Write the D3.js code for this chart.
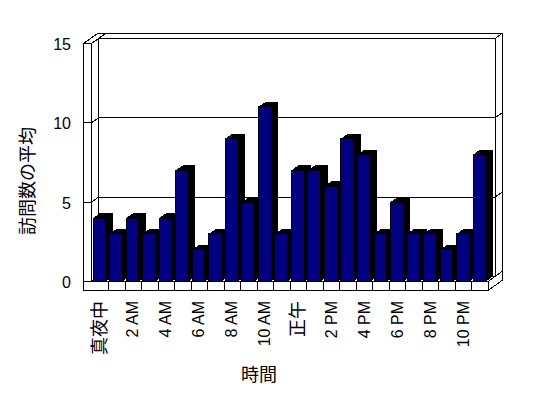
<!DOCTYPE html>
<html>
<head>
<meta charset="utf-8">
<script src="https://cdn.jsdelivr.net/npm/d3@7"></script>
<style>
  body { margin: 0; background: #fff; }
  svg { display: block; }
  text { font-family: "Liberation Sans", Arial, "Noto Sans CJK JP", sans-serif; fill: #000; }
</style>
</head>
<body>
<svg id="chart" width="548" height="398"></svg>
<script>
// hourly categories, only every other one gets a label
const hours = ["真夜中", "1 AM", "2 AM", "3 AM", "4 AM", "5 AM", "6 AM", "7 AM", "8 AM", "9 AM", "10 AM", "11 AM",
               "正午", "1 PM", "2 PM", "3 PM", "4 PM", "5 PM", "6 PM", "7 PM", "8 PM", "9 PM", "10 PM", "11 PM"];
const visits = [4, 3, 4, 3, 4, 7, 2, 3, 9, 5, 11, 3, 7, 7, 6, 9, 8, 3, 5, 3, 3, 2, 3, 8];
const yTicks = [0, 5, 10, 15];
const yTitle = "訪問数の平均";
const xTitle = "時間";

const svg = d3.select("#chart");

// front plane of the plot and the 3D depth offset
const plot = { left: 91.5, right: 488, bottom: 281.5, top: 43.5 };
const dx = 7, dy = -5;       // depth of the plot (front -> back wall)
const wallW = 8, floorH = 9; // thickness of left wall / floor

const x = d3.scaleBand().domain(hours).range([plot.left, plot.right]).padding(0);
const y = d3.scaleLinear().domain([0, 15]).range([plot.bottom, plot.top]);

const line = d3.line();
const poly = pts => line(pts) + "Z";

const frame = svg.append("g")
    .attr("fill", "#fff")
    .attr("stroke", "#000")
    .attr("stroke-width", 1)
    .attr("shape-rendering", "crispEdges");

const bx0 = plot.left + dx, bx1 = plot.right + dx;   // back wall x range
const by0 = y(15) + dy, by1 = y(0) + dy;            // back wall y range

// back wall thickness (top and right faces)
frame.append("path").attr("d", poly([[bx0, by0], [bx1, by0], [bx1 + dx, by0 + dy], [bx0 + dx, by0 + dy]]));
frame.append("path").attr("d", poly([[bx1, by0], [bx1 + dx, by0 + dy], [bx1 + dx, by1 + dy], [bx1, by1]]));
// back wall
frame.append("rect").attr("x", bx0).attr("y", by0).attr("width", bx1 - bx0).attr("height", by1 - by0);
// left wall top, inner face and front face
const lx = plot.left - wallW;
frame.append("path").attr("d", poly([[lx, y(15)], [plot.left, y(15)], [plot.left + 2 * dx, y(15) + 2 * dy], [lx + 2 * dx, y(15) + 2 * dy]]));
frame.append("path").attr("d", poly([[plot.left, y(15)], [bx0, by0], [bx0, by1], [plot.left, y(0)]]));
frame.append("rect").attr("x", lx).attr("y", y(15)).attr("width", wallW).attr("height", y(0) + floorH - y(15));
// floor: top, right side, front face
frame.append("path").attr("d", poly([[plot.left, y(0)], [bx0, by1], [bx1, by1], [plot.right, y(0)]]));
frame.append("path").attr("d", poly([[plot.right, y(0)], [plot.right + 2 * dx, y(0) + 2 * dy],
    [plot.right + 2 * dx, y(0) + 2 * dy + floorH], [plot.right, y(0) + floorH]]));
frame.append("rect").attr("x", lx).attr("y", y(0)).attr("width", plot.right - lx).attr("height", floorH);

// gridlines running over left wall, back wall and its right edge
frame.selectAll(".grid").data(yTicks.filter(d => d > 0 && d < 15))
    .enter().append("path")
    .attr("fill", "none")
    .attr("d", d => line([[lx, y(d)], [plot.left, y(d)], [bx0, y(d) + dy], [bx1, y(d) + dy], [bx1 + dx, y(d) + 2 * dy]]));

// category dividers on the floor front
frame.selectAll(".ctick").data(hours.slice(1))
    .enter().append("line")
    .attr("x1", d => Math.round(x(d)) + 0.5).attr("x2", d => Math.round(x(d)) + 0.5)
    .attr("y1", y(0)).attr("y2", y(0) + floorH);

// bars: black depth block, navy front face
const barW = x.bandwidth() * 0.77;
const barOff = x.bandwidth() * 0.1;
const bars = svg.append("g").attr("shape-rendering", "crispEdges");
hours.forEach((h, i) => {
    const x0 = x(h) + barOff, x1 = x0 + barW, yt = y(visits[i]), yb = y(0);
    const g = bars.append("g");
    g.append("path")
        .attr("d", poly([[x0, yt], [x0 + dx, yt + dy], [x1 + dx, yt + dy], [x1 + dx, yb + dy], [x1, yb], [x0, yb]]))
        .attr("fill", "#000");
    g.append("rect")
        .attr("x", x0).attr("y", yt).attr("width", barW).attr("height", yb - yt)
        .attr("fill", "#000080").attr("stroke", "#000").attr("stroke-width", 1);
});

// y tick labels
svg.append("g").selectAll("text").data(yTicks)
    .enter().append("text")
    .attr("x", 71).attr("y", d => y(d) + 1)
    .attr("text-anchor", "end")
    .attr("dominant-baseline", "central")
    .attr("font-size", 16)
    .text(d => d);

// x tick labels, every second hour, rotated
svg.append("g").selectAll("text").data(hours.filter((d, i) => i % 2 === 0))
    .enter().append("text")
    .attr("transform", d => `translate(${x(d) + x.bandwidth() / 2},301) rotate(-90)`)
    .attr("text-anchor", "end")
    .attr("dominant-baseline", "central")
    .attr("font-size", d => /[A-Z]/.test(d) ? 16 : 18)
    .text(d => d);

// axis titles
svg.append("text")
    .attr("transform", "translate(28,181) rotate(-90)")
    .attr("text-anchor", "middle")
    .attr("dominant-baseline", "central")
    .attr("font-size", 18)
    .text(yTitle);

svg.append("text")
    .attr("x", 259).attr("y", 375)
    .attr("text-anchor", "middle")
    .attr("dominant-baseline", "central")
    .attr("font-size", 18)
    .text(xTitle);
</script>
</body>
</html>
